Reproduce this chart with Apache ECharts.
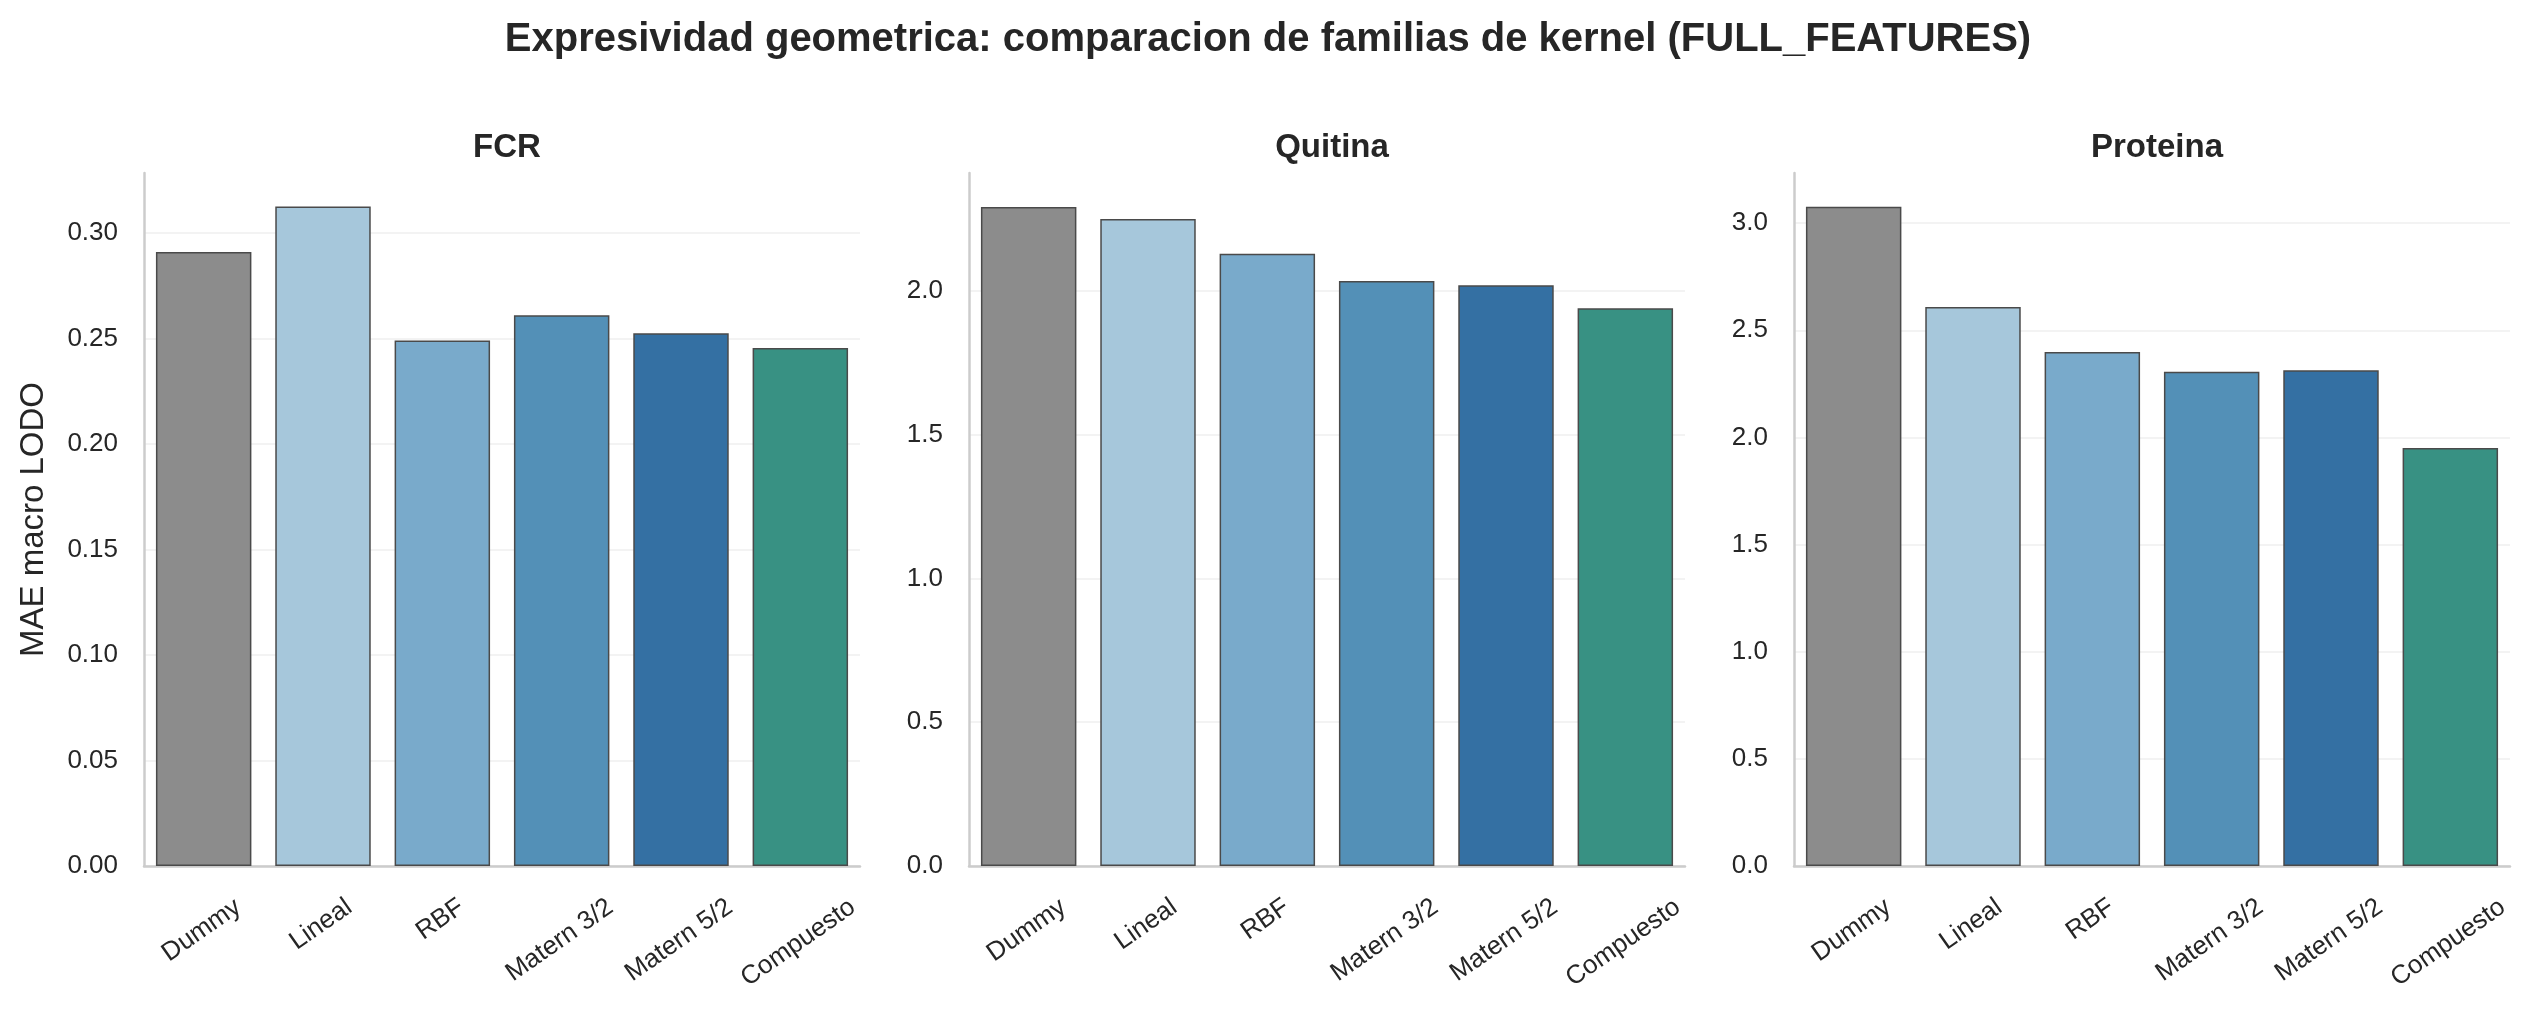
<!DOCTYPE html>
<html>
<head>
<meta charset="utf-8">
<title>Expresividad geometrica</title>
<script src="https://cdn.jsdelivr.net/npm/echarts@6/dist/echarts.min.js"></script>
<style>
  html, body { margin: 0; padding: 0; background: #fff; }
  #chart { width: 2536px; height: 1015px; }
</style>
</head>
<body>
<div id="chart"></div>
<script>
// ── Data ─────────────────────────────────────────────────────────────────────
const categories = ['Dummy', 'Lineal', 'RBF', 'Matern 3/2', 'Matern 5/2', 'Compuesto'];
const panelTitles = ['FCR', 'Quitina', 'Proteina'];

const fcrValues      = [0.291, 0.3125, 0.249, 0.261, 0.2525, 0.2455];
const quitinaValues  = [2.291, 2.249, 2.128, 2.034, 2.019, 1.939];
const proteinaValues = [3.077, 2.609, 2.399, 2.307, 2.313, 1.951];

const yMax      = [0.3284, 2.409, 3.234];
const yInterval = [0.05, 0.5, 0.5];
const yDecimals = [2, 1, 1];

const barColors = ['#8c8c8c', '#a6c7db', '#79aacb', '#5390b7', '#3470a3', '#389183'];

// ── Layout ───────────────────────────────────────────────────────────────────
const FONT = '"Liberation Sans", Arial, sans-serif';
const TEXT = '#262626';
const TICK_FONT = '26px ' + FONT;
const gridLefts = [144, 969, 1794];
const GRID_W = 716, GRID_TOP = 173, GRID_H = 693;
const ROT = 35 * Math.PI / 180;
const LABEL_PAD = 28;   // axis line -> top of the rotated label box

const allValues = [fcrValues, quitinaValues, proteinaValues];

const chart = echarts.init(document.getElementById('chart'), null, { renderer: 'canvas' });

const option = {
  backgroundColor: '#fff',
  animation: false,
  textStyle: { fontFamily: FONT },
  title: [
    {
      text: 'Expresividad geometrica: comparacion de familias de kernel (FULL_FEATURES)',
      left: 'center', top: 15,
      textStyle: { fontSize: 40, fontWeight: 'bold', color: TEXT, fontFamily: FONT },
    },
    ...panelTitles.map((t, i) => ({
      text: t,
      left: gridLefts[i] + GRID_W / 2, top: 126, textAlign: 'center',
      textStyle: { fontSize: 33, fontWeight: 'bold', color: TEXT, fontFamily: FONT },
    })),
  ],
  grid: gridLefts.map(l => ({
    left: l, top: GRID_TOP, width: GRID_W, height: GRID_H,
    containLabel: false, outerBoundsMode: 'none',
  })),
  xAxis: gridLefts.map((l, i) => ({
    type: 'category',
    gridIndex: i,
    data: categories,
    axisLine: { show: true, lineStyle: { color: '#cccccc', width: 2.5 } },
    axisTick: { show: false },
    splitLine: { show: false },
    // drawn below as rotated text centred on each tick (matplotlib style)
    axisLabel: { show: false },
  })),
  yAxis: gridLefts.map((l, i) => ({
    type: 'value',
    gridIndex: i,
    min: 0, max: yMax[i], interval: yInterval[i],
    name: i === 0 ? 'MAE macro LODO' : '',
    nameLocation: 'middle', nameGap: 94,
    nameTextStyle: { fontSize: 33, color: TEXT, fontFamily: FONT },
    axisLine: { show: true, lineStyle: { color: '#cccccc', width: 2.5 } },
    axisTick: { show: false },
    splitLine: { show: true, showMaxLine: false, lineStyle: { color: '#efefef', width: 1.6 } },
    axisLabel: {
      margin: 26, fontSize: 26, color: TEXT, fontFamily: FONT, showMaxLabel: false,
      formatter: v => v.toFixed(yDecimals[i]),
    },
  })),
  series: allValues.map((vals, i) => ({
    type: 'bar',
    xAxisIndex: i, yAxisIndex: i,
    barWidth: '80%',
    data: vals.map((v, k) => ({ value: v, itemStyle: { color: barColors[k] } })),
    itemStyle: { borderColor: '#4a4a4a', borderWidth: 1.5 },
  })),
};

chart.setOption(option);

// ── Category labels ──────────────────────────────────────────────────────────
// Rotated 35°, centred on the tick, top of the rotated box at a fixed gap
// under the axis. Tick positions come from the chart's own category scale.
const ctx = document.createElement('canvas').getContext('2d');
ctx.font = TICK_FONT;
const labels = [];
gridLefts.forEach((l, i) => {
  categories.forEach((c, k) => {
    const [px, py] = chart.convertToPixel({ gridIndex: i }, [k, 0]);
    const w = ctx.measureText(c).width;
    const boxH = w * Math.sin(ROT) + 26 * Math.cos(ROT);
    labels.push({
      type: 'text',
      x: px - 2,
      y: py + LABEL_PAD + boxH / 2,
      rotation: ROT,
      silent: true,
      style: { text: c, font: TICK_FONT, fill: TEXT, align: 'center', verticalAlign: 'middle' },
    });
  });
});
chart.setOption({ graphic: labels });
</script>
</body>
</html>
